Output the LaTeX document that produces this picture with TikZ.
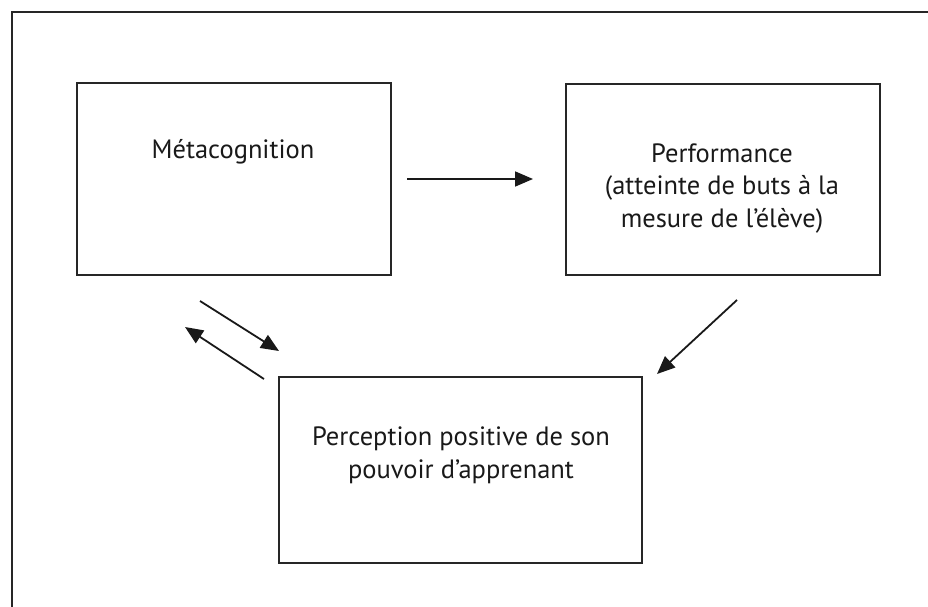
\documentclass[tikz,border=0pt]{standalone}
\usepackage{fontspec}
\setmainfont{PT Sans}
\usetikzlibrary{arrows.meta}
\begin{document}
\begin{tikzpicture}[x=1pt,y=-1pt,
  box/.style={draw=black!85,line width=1.5pt,inner sep=0pt,outer sep=0pt},
  lbl/.style={font=\fontsize{26.5}{32.5}\selectfont,align=center,anchor=base,inner sep=0pt,text=black!90},
  arr/.style={line width=1.8pt,draw=black!90,-{Triangle[length=18pt,width=15pt]}}]
\useasboundingbox (0,0) rectangle (928,607);
\begin{scope}
\clip (0,0) rectangle (928,607);
\draw[line width=1.5pt,draw=black!85] (12,620) -- (12,12) -- (940,12);
\end{scope}
\node[box,minimum width=314pt,minimum height=192pt] (meta) at (234,179) {};
\node[box,minimum width=314pt,minimum height=191pt] (perf) at (723,179.5) {};
\node[box,minimum width=363pt,minimum height=186pt] (perc) at (460.5,470) {};
\node[lbl] (tmeta) at (233,158) {Métacognition};
\node[lbl] (tperf) at (722,227) {Performance\\(atteinte de buts à la\\mesure de l’élève)};
\node[lbl] (tperc) at (461,478) {Perception positive de son\\pouvoir d’apprenant};
\coordinate (h1) at (407,179);
\coordinate (h2) at (533,179);
\coordinate (a1s) at (200,301);
\coordinate (a1e) at (279,351);
\coordinate (a2s) at (264,379);
\coordinate (a2e) at (185,327);
\coordinate (a3s) at (737,300);
\coordinate (a3e) at (657,374);
\draw[arr] (h1) -- (h2);
\draw[arr] (a1s) -- (a1e);
\draw[arr] (a2s) -- (a2e);
\draw[arr] (a3s) -- (a3e);
\end{tikzpicture}
\end{document}
